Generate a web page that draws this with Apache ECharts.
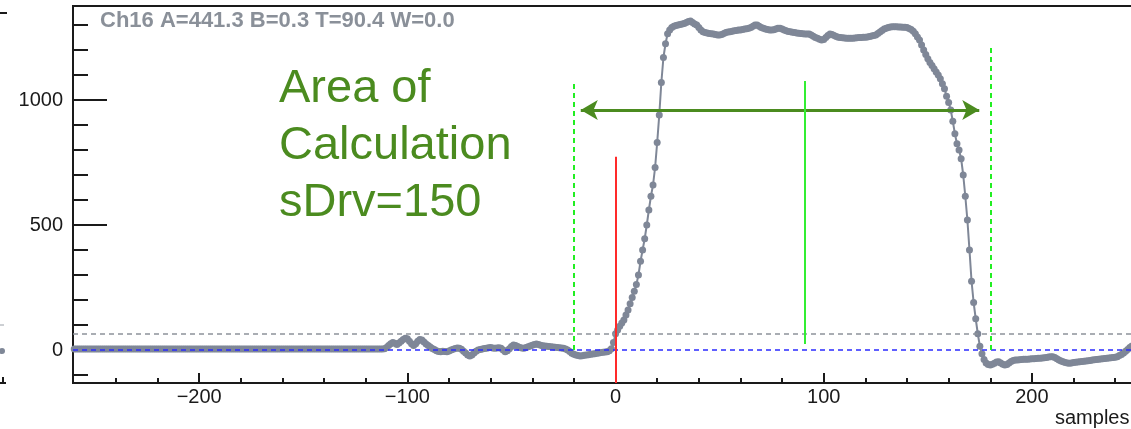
<!DOCTYPE html>
<html><head><meta charset="utf-8">
<script src="https://cdn.jsdelivr.net/npm/echarts@6/dist/echarts.min.js"></script>
<style>html,body{margin:0;padding:0;background:#fff}#c{width:1131px;height:429px}</style>
</head><body><div id="c"></div>
<script>
// ---- waveform samples, first sample = startSample ----
const startSample = -261;
const flatPart = [ // -261 .. -112
4,4,4,4,4,4,4,4,4,4, 4,4,4,4,4,4,4,4,4,4, 4,4,4,4,4,4,4,4,4,4,
4,4,4,4,4,4,4,4,4,4, 4,4,4,4,4,4,4,4,4,4, 4,4,4,4,4,4,4,4,4,4,
4,4,4,4,4,4,4,4,4,4, 4,4,4,4,4,4,4,4,4,4, 4,4,4,4,4,4,4,4,4,4,
4,4,4,4,4,4,4,4,4,4, 4,4,4,4,4,4,4,4,4,4, 4,4,4,4,4,4,4,4,4,4,
4,4,4,4,4,4,4,4,4,4, 4,4,4,4,4,4,4,4,4,4, 4,4,4,4,4,4,4,4,4,4
];
const noisePart = [ // -111 .. -1
5,10,18,25,30,27,22,28,35,42,
47,45,35,25,18,25,35,42,40,32,
24,18,12,6,2,-3,-6,-7,-5,-6,
-7,-4,0,3,6,8,7,3,-5,-12,
-20,-24,-20,-12,-5,0,2,4,6,7,
9,10,8,7,8,9,7,0,-7,-3,
5,14,20,18,14,10,8,7,10,13,
16,19,22,24,22,19,17,16,15,14,
13,12,11,10,9,8,7,4,0,-6,
-13,-17,-20,-22,-24,-23,-21,-20,-19,-17,
-16,-15,-13,-12,-10,-9,-8,-7,-3,5,
30
];
const risePart = [ // 0 .. 27
65,80,95,108,120,140,160,185,210,235,
262,300,355,400,445,500,560,615,660,730,
830,940,1070,1170,1225,1265,1280,1290
];
const plateauPart = [ // 28 .. 142
1295,1298,1300,1302,1304,1306,1310,1314,1316,1310,
1304,1300,1290,1280,1273,1270,1268,1266,1265,1264,
1262,1260,1260,1262,1266,1270,1272,1273,1275,1277,
1278,1280,1280,1282,1284,1285,1287,1290,1295,1300,
1300,1295,1290,1287,1284,1282,1280,1280,1281,1284,
1287,1287,1284,1280,1277,1274,1273,1271,1270,1268,
1267,1266,1265,1264,1264,1264,1260,1255,1250,1247,
1243,1240,1242,1250,1258,1264,1262,1258,1254,1251,
1250,1249,1248,1247,1247,1247,1247,1248,1249,1250,
1250,1251,1251,1252,1254,1256,1258,1260,1266,1272,
1278,1284,1287,1290,1292,1293,1293,1293,1292,1292,
1291,1291,1290,1286,1282
];
const fallPart = [ // 143 .. 179
1275,1265,1252,1240,1220,1200,1182,1165,1150,1138,
1125,1112,1100,1085,1065,1045,1015,990,960,915,
865,825,800,765,700,615,520,400,275,190,
125,65,15,-15,-38,-52,-58
];
const tailPart = [ // 180 .. 250
-60,-57,-53,-48,-47,-52,-57,-60,-58,-52,
-46,-42,-40,-40,-39,-38,-37,-37,-37,-36,
-35,-35,-34,-33,-33,-32,-31,-30,-28,-27,
-27,-30,-35,-40,-44,-47,-50,-52,-53,-52,
-50,-49,-48,-47,-46,-45,-44,-43,-42,-40,
-39,-38,-37,-36,-35,-34,-33,-32,-31,-30,
-29,-27,-22,-18,-12,-5,2,10,15,20,25
];

// ---- axes ----
const xRange = [-260.6, 266.8];
const yRange = [-132, 1376];
const xMajorTicks = [-200, -100, 0, 100, 200];
const xMinorTicks = [-240,-220,-180,-160,-140,-120,-80,-60,-40,-20,20,40,60,80,120,140,160,180,220,240,260];
const yMajorTicks = [0, 500, 1000];
const yMinorTicks = [-100,100,200,300,400,600,700,800,900,1100,1200,1300];

// ---- reference markers ----
const thresholdLevel = 67;
const baselineLevel = 0.3;
const windowLines = [[-20, 0, 1080], [180, 0, 1216]];   // x, yFrom, yTo
const triggerLine = [0, -132, 773];
const peakLine = [91, 24, 1076];
const arrowSpan = [-16.7, 174.7, 960];                 // xFrom, xTo, y

const titleText = 'Ch16 A=441.3 B=0.3 T=90.4 W=0.0';
const noteText = 'Area of\nCalculation\nsDrv=150';
const xAxisTitle = 'samples';

const wave = [].concat(flatPart, noisePart, risePart, plateauPart, fallPart, tailPart)
  .map((v, i) => [startSample + i, v]);

const FONT = '"Liberation Sans", Arial, Helvetica, sans-serif';
const fmtMinus = v => String(v).replace('-', '\u2212');

const chart = echarts.init(document.getElementById('c'), null, {renderer: 'canvas'});
const axisBase = {type: 'value', axisLine: {show: false, onZero: false}, splitLine: {show: false}};
chart.setOption({
  animation: false,
  grid: {left: 73, top: 6, right: -40, bottom: 46, show: true, borderColor: '#1a1a1a', borderWidth: 2,
         backgroundColor: 'transparent', outerBoundsMode: 'none', containLabel: false},
  xAxis: [
    Object.assign({}, axisBase, {position: 'bottom', min: xRange[0], max: xRange[1],
      axisTick: {show: true, inside: true, length: 10, customValues: xMajorTicks, lineStyle: {color: '#1a1a1a', width: 2}},
      axisLabel: {show: true, customValues: xMajorTicks, formatter: fmtMinus, margin: 4,
        fontFamily: FONT, fontSize: 20, color: '#1a1a1a'}}),
    Object.assign({}, axisBase, {position: 'bottom', min: xRange[0], max: xRange[1],
      axisTick: {show: true, inside: true, length: 5, customValues: xMinorTicks, lineStyle: {color: '#1a1a1a', width: 2}},
      axisLabel: {show: false}})
  ],
  yAxis: [
    Object.assign({}, axisBase, {position: 'left', min: yRange[0], max: yRange[1],
      axisTick: {show: true, inside: true, length: 34, customValues: yMajorTicks, lineStyle: {color: '#1a1a1a', width: 2}},
      axisLabel: {show: true, customValues: yMajorTicks, formatter: fmtMinus, margin: 10, padding: [4, 0, 0, 0],
        fontFamily: FONT, fontSize: 20, color: '#1a1a1a'}}),
    Object.assign({}, axisBase, {position: 'left', min: yRange[0], max: yRange[1],
      axisTick: {show: true, inside: true, length: 15, customValues: yMinorTicks, lineStyle: {color: '#1a1a1a', width: 2}},
      axisLabel: {show: false}})
  ],
  series: [
    { // arrow (under the waveform)
      type: 'line', data: [], z: 1, silent: true,
      markLine: {silent: true, symbol: ['arrow', 'arrow'], symbolSize: [15, 17], label: {show: false},
        lineStyle: {color: '#4b8b1f', width: 3, type: 'solid'},
        emphasis: {disabled: true},
        data: [[{coord: [arrowSpan[0], arrowSpan[2]]}, {coord: [arrowSpan[1], arrowSpan[2]]}]]}
    },
    { // waveform
      type: 'line', data: wave, z: 3, silent: true, clip: true,
      symbol: 'circle', symbolSize: 7, showSymbol: true,
      itemStyle: {color: '#7f8797'},
      lineStyle: {color: '#7f8797', width: 2}
    },
    { // reference lines on top
      type: 'line', data: [], z: 5, silent: true,
      markLine: {silent: true, symbol: 'none', label: {show: false}, emphasis: {disabled: true},
        data: [
          {yAxis: thresholdLevel, lineStyle: {color: '#8d929b', type: [5, 4], width: 1.5}},
          {yAxis: baselineLevel, lineStyle: {color: '#2b2bff', type: [5, 4], width: 1.5}},
          [{coord: [windowLines[0][0], windowLines[0][1]], lineStyle: {color: '#22ee22', type: [5, 4], width: 2}},
           {coord: [windowLines[0][0], windowLines[0][2]]}],
          [{coord: [windowLines[1][0], windowLines[1][1]], lineStyle: {color: '#22ee22', type: [5, 4], width: 2}},
           {coord: [windowLines[1][0], windowLines[1][2]]}],
          [{coord: [triggerLine[0], triggerLine[1]], lineStyle: {color: '#ff2a2a', type: 'solid', width: 2}},
           {coord: [triggerLine[0], triggerLine[2]]}],
          [{coord: [peakLine[0], peakLine[1]], lineStyle: {color: '#33ee33', type: 'solid', width: 2}},
           {coord: [peakLine[0], peakLine[2]]}]
        ]}
    }
  ],
  graphic: [
    {type: 'text', left: 100, top: 10, z: 10, style: {text: titleText, font: 'bold 22px ' + FONT, fill: '#8a9099'}},
    {type: 'text', left: 279, top: 61, z: 10, style: {text: noteText, font: '47px ' + FONT, lineHeight: 57, fill: '#4b8b1f'}},
    {type: 'text', left: 1055, top: 408, z: 10, style: {text: xAxisTitle, font: '20px ' + FONT, fill: '#1a1a1a'}},
    {type: 'line', shape: {x1: 0, y1: 13, x2: 7, y2: 13}, style: {stroke: '#1a1a1a', lineWidth: 2}},
    {type: 'line', shape: {x1: 0, y1: 325, x2: 4, y2: 325}, style: {stroke: '#9aa0a8', lineWidth: 1}},
    {type: 'circle', shape: {cx: 2, cy: 351, r: 3}, style: {fill: '#7f8797'}},
    {type: 'line', shape: {x1: 3, y1: 377, x2: 3, y2: 384}, style: {stroke: '#1a1a1a', lineWidth: 2}},
    {type: 'line', shape: {x1: 0, y1: 383, x2: 6, y2: 383}, style: {stroke: '#1a1a1a', lineWidth: 2}}
  ]
});
</script></body></html>
